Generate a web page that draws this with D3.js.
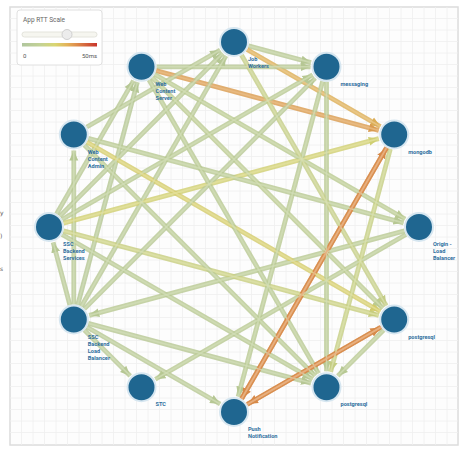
<!DOCTYPE html>
<html>
<head>
<meta charset="utf-8">
<script src="https://cdn.jsdelivr.net/npm/d3@7"></script>
<style>
  html, body { margin: 0; padding: 0; background: #ffffff; }
  svg { display: block; }
</style>
</head>
<body>
<svg id="chart" width="462" height="449"></svg>
<script>
// ---- data ----
const nodeIds = ["jobs", "messaging", "mongodb", "origin", "pg1", "pg2", "push", "stc", "ssclb", "sscbs", "wca", "wcs"];
const nodeLabels = [
  ["Job", "Workers"],
  ["messaging"],
  ["mongodb"],
  ["Origin -", "Load", "Balancer"],
  ["postgresql"],
  ["postgresql"],
  ["Push", "Notification"],
  ["STC"],
  ["SSC", "Backend", "Load", "Balancer"],
  ["SSC", "Backend", "Services"],
  ["Web", "Content", "Admin"],
  ["Web", "Content", "Server"]
];
const edgeFrom = ["jobs", "jobs", "wcs", "wcs", "wca", "ssclb", "ssclb", "ssclb", "ssclb", "ssclb", "ssclb", "ssclb", "origin", "origin", "sscbs", "sscbs", "sscbs", "sscbs", "sscbs", "sscbs", "wca", "wca", "wca", "wcs", "wcs", "wcs", "messaging", "messaging", "jobs", "mongodb", "push", "mongodb", "pg1", "push", "pg1", "ssclb"];
const edgeTo   = ["messaging", "mongodb", "messaging", "mongodb", "jobs", "wca", "wcs", "jobs", "sscbs", "stc", "push", "pg2", "ssclb", "stc", "pg2", "mongodb", "pg1", "messaging", "jobs", "wcs", "origin", "pg1", "pg2", "origin", "pg1", "pg2", "pg2", "push", "pg1", "pg2", "mongodb", "push", "push", "pg1", "pg2", "messaging"];
const edgeRtt  = [8, 30, 8, 33, 8, 8, 7, 8, 8, 8, 8, 8, 9, 9, 9, 21, 17, 9, 8, 8, 9, 23, 9, 10, 11, 9, 9, 9, 15, 16, 36, 36, 36, 36, 9, 8];
const scaleTicks = ["0", "50ms"];
const rttDomain = [0, 50];
const sliderValue = 30;

// ---- layout constants ----
const W = 462, H = 449;
const cx = 234, cy = 227, R = 185, nodeR = 14;

const svg = d3.select("#chart");

// panel + grid
const panel = { x0: 10, y0: 7, x1: 458, y1: 445 };
const gridX = d3.scaleLinear().domain([0, 39]).range([panel.x0, panel.x0 + 39 * 11.5]);
const gridY = d3.scaleLinear().domain([0, 38]).range([panel.y0, panel.y0 + 38 * 11.5]);
svg.append("rect").attr("x", panel.x0).attr("y", panel.y0)
  .attr("width", panel.x1 - panel.x0).attr("height", panel.y1 - panel.y0)
  .attr("fill", "#fdfdfd").attr("stroke", "#dcdcdc").attr("stroke-width", 1.5);
const grid = svg.append("g").attr("stroke", "#efefef").attr("stroke-width", 0.8);
grid.selectAll("line.v").data(d3.range(1, 39)).join("line")
  .attr("x1", d => gridX(d)).attr("x2", d => gridX(d))
  .attr("y1", panel.y0).attr("y2", panel.y1);
grid.selectAll("line.h").data(d3.range(1, 38)).join("line")
  .attr("y1", d => gridY(d)).attr("y2", d => gridY(d))
  .attr("x1", panel.x0).attr("x2", panel.x1);

// cropped side text fragments
svg.append("g").attr("font-family", "DejaVu Sans, sans-serif").attr("font-size", 6).attr("fill", "#555")
  .selectAll("text").data([["y", 215], [")", 238], ["s", 271]]).join("text")
  .attr("x", 0).attr("y", d => d[1]).text(d => d[0]);

// scales
const angle = d3.scalePoint().domain(nodeIds).range([0, 2 * Math.PI * 11 / 12]);
const px = id => cx + R * Math.sin(angle(id));
const py = id => cy - R * Math.cos(angle(id));
const color = d3.scaleLinear()
  .domain([0, 12, 22, 30, 36, 50])
  .range(["#b0c69e", "#c3d296", "#d9d672", "#e3b35a", "#de8f4c", "#c8342c"])
  .clamp(true);

// markers
const defs = svg.append("defs");
const edges = edgeFrom.map((s, i) => ({ s, t: edgeTo[i], v: edgeRtt[i], i }));
defs.selectAll("marker").data(edges).join("marker")
  .attr("id", d => "arr" + d.i)
  .attr("markerUnits", "userSpaceOnUse")
  .attr("viewBox", "0 -5 10 10")
  .attr("markerWidth", 10).attr("markerHeight", 10)
  .attr("refX", 10).attr("refY", 0)
  .attr("orient", "auto")
  .append("path").attr("d", "M0,-4.5L10,0L0,4.5Z")
  .attr("fill", d => d3.color(color(d.v)).darker(0.1));

function ends(d) {
  const x1 = px(d.s), y1 = py(d.s), x2 = px(d.t), y2 = py(d.t);
  const L = Math.hypot(x2 - x1, y2 - y1);
  const ux = (x2 - x1) / L, uy = (y2 - y1) / L;
  return { x1: x1 + ux * (nodeR + 1), y1: y1 + uy * (nodeR + 1), x2: x2 - ux * (nodeR + 2), y2: y2 - uy * (nodeR + 2) };
}

// edges (outer + inner stroke)
const eg = svg.append("g").attr("fill", "none");
eg.selectAll("line.outer").data(edges).join("line").attr("class", "outer")
  .attr("x1", d => ends(d).x1).attr("y1", d => ends(d).y1)
  .attr("x2", d => ends(d).x2).attr("y2", d => ends(d).y2)
  .attr("stroke", d => d3.color(color(d.v)).darker(0.08))
  .attr("stroke-width", 4.8).attr("stroke-opacity", 0.82)
  .attr("marker-end", d => `url(#arr${d.i})`);
eg.selectAll("line.inner").data(edges).join("line").attr("class", "inner")
  .attr("x1", d => ends(d).x1).attr("y1", d => ends(d).y1)
  .attr("x2", d => ends(d).x2).attr("y2", d => ends(d).y2)
  .attr("stroke", d => d3.interpolateRgb(color(d.v), "#ffffff")(0.3))
  .attr("stroke-width", 1.6).attr("stroke-opacity", 0.75);

// nodes
const ng = svg.append("g");
ng.selectAll("circle").data(nodeIds).join("circle")
  .attr("cx", d => px(d)).attr("cy", d => py(d)).attr("r", nodeR)
  .attr("fill", "#1f6690").attr("stroke", "#d6e6f0").attr("stroke-width", 2);

// labels
const lg = svg.append("g").attr("font-family", "Roboto, 'DejaVu Sans', sans-serif")
  .attr("font-size", 5.6).attr("font-weight", "bold").attr("fill", "#2f6f9e");
lg.selectAll("text").data(nodeIds).join("text")
  .attr("x", d => px(d) + 14).attr("y", d => py(d) + 19)
  .each(function (d, i) {
    d3.select(this).selectAll("tspan").data(nodeLabels[i]).join("tspan")
      .attr("x", px(d) + 14).attr("dy", (t, j) => j === 0 ? 0 : 7).text(t => t);
  });

// legend
const leg = svg.append("g");
leg.append("rect").attr("x", 17).attr("y", 10).attr("width", 85).attr("height", 55).attr("rx", 3)
  .attr("fill", "#ffffff").attr("stroke", "#e0e0e0");
leg.append("text").attr("x", 23).attr("y", 22).attr("font-family", "Roboto, sans-serif")
  .attr("font-size", 6.5).attr("fill", "#666").text("App RTT Scale");
const lx = d3.scaleLinear().domain(rttDomain).range([22, 97]);
leg.append("rect").attr("x", lx(0)).attr("y", 32).attr("width", lx(50) - lx(0)).attr("height", 5).attr("rx", 2.5)
  .attr("fill", "#f6f6f0").attr("stroke", "#e4e4dc");
leg.append("circle").attr("cx", lx(sliderValue)).attr("cy", 34.5).attr("r", 5).attr("fill", "#ececec").attr("stroke", "#d0d0d0");
const grad = defs.append("linearGradient").attr("id", "rttGrad");
grad.selectAll("stop").data(d3.range(0, 51, 1)).join("stop")
  .attr("offset", d => (d / 50 * 100) + "%").attr("stop-color", d => color(d));
leg.append("rect").attr("x", lx(0)).attr("y", 43).attr("width", lx(50) - lx(0)).attr("height", 3.5)
  .attr("fill", "url(#rttGrad)");
leg.selectAll("text.tick").data(scaleTicks).join("text").attr("class", "tick")
  .attr("x", (d, i) => i === 0 ? lx(0) + 1 : lx(50)).attr("y", 58)
  .attr("text-anchor", (d, i) => i === 0 ? "start" : "end")
  .attr("font-family", "Roboto, sans-serif").attr("font-size", 6).attr("fill", "#555").text(d => d);
</script>
</body>
</html>
